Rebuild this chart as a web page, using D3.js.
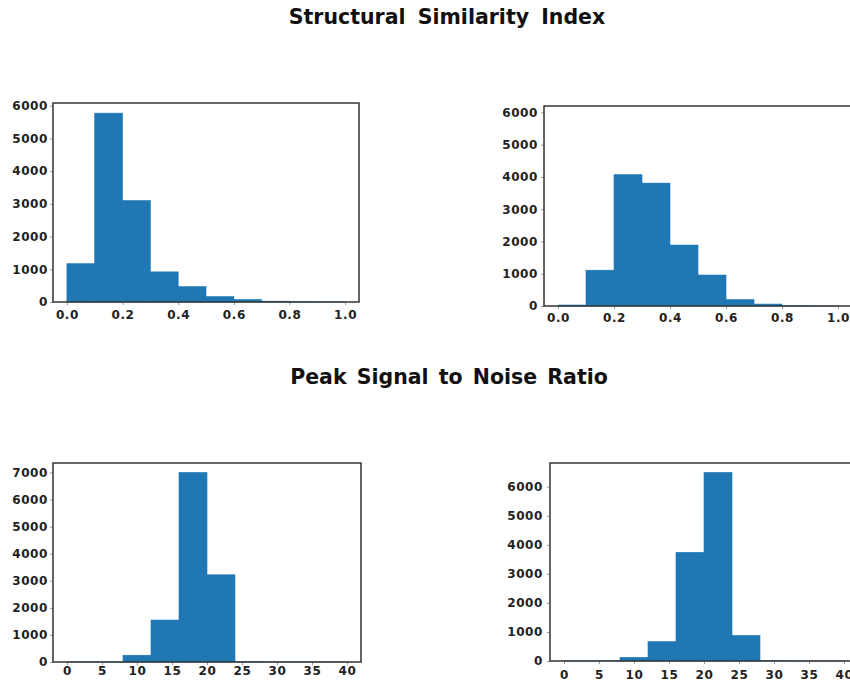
<!DOCTYPE html>
<html>
<head>
<meta charset="utf-8">
<script src="https://cdn.jsdelivr.net/npm/d3@7"></script>
<style>
  body { margin: 0; background: #fff; }
  svg { display: block; }
</style>
</head>
<body>
<svg id="chart" width="850" height="687"></svg>
<script>
// bin edges
const ssimEdges = [0, 0.1, 0.2, 0.3, 0.4, 0.5, 0.6, 0.7, 0.8, 0.9, 1.0]
const psnrEdges = [0, 4, 8, 12, 16, 20, 24, 28, 32, 36, 40]

// counts per bin
const ssimLeft = [1170, 5770, 3100, 920, 470, 165, 75, 25, 8, 3]
const ssimRight = [30, 1110, 4070, 3810, 1890, 960, 200, 60, 8, 2]
const psnrLeft = [3, 8, 250, 1550, 7000, 3220, 10, 5, 3, 2]
const psnrRight = [3, 6, 125, 665, 3740, 6490, 880, 8, 3, 2]

// tick labels
const ssimXTicks = [0, 0.2, 0.4, 0.6, 0.8, 1.0]
const psnrXTicks = [0, 5, 10, 15, 20, 25, 30, 35, 40]
const yTicks6000 = [0, 1000, 2000, 3000, 4000, 5000, 6000]
const yTicks7000 = [0, 1000, 2000, 3000, 4000, 5000, 6000, 7000]

const titles = ["Structural Similarity Index", "Peak Signal to Noise Ratio"]

const svg = d3.select("#chart")
const font = "DejaVu Sans, Verdana, sans-serif"

// Section titles
svg.append("text")
  .attr("x", 447).attr("y", 24)
  .attr("text-anchor", "middle")
  .attr("font-family", font)
  .attr("font-weight", "bold")
  .attr("font-size", 20.5)
  .attr("fill", "#111")
  .attr("word-spacing", 5)
  .text(titles[0])

svg.append("text")
  .attr("x", 449).attr("y", 384)
  .attr("text-anchor", "middle")
  .attr("font-family", font)
  .attr("font-weight", "bold")
  .attr("font-size", 20.5)
  .attr("fill", "#111")
  .attr("word-spacing", 3)
  .text(titles[1])

const panels = [
  { edges: ssimEdges, counts: ssimLeft, xTicks: ssimXTicks, yTicks: yTicks6000,
    xDomain: [-0.05, 1.05], yMax: 6080, x0: 53, x1: 359, yTop: 103, yBot: 302,
    fmt: d3.format(".1f"), xPad: 5, yPad: 2 },
  { edges: ssimEdges, counts: ssimRight, xTicks: ssimXTicks, yTicks: yTicks6000,
    xDomain: [-0.05, 1.05], yMax: 6200, x0: 544, x1: 852, yTop: 106, yBot: 306,
    fmt: d3.format(".1f"), xPad: 4, yPad: 3 },
  { edges: psnrEdges, counts: psnrLeft, xTicks: psnrXTicks, yTicks: yTicks7000,
    xDomain: [-2, 42], yMax: 7350, x0: 53, x1: 361, yTop: 463, yBot: 662,
    fmt: d3.format("d"), xPad: 1, yPad: 2 },
  { edges: psnrEdges, counts: psnrRight, xTicks: psnrXTicks, yTicks: yTicks6000,
    xDomain: [-2, 42], yMax: 6815, x0: 550, x1: 858, yTop: 463, yBot: 661,
    fmt: d3.format("d"), xPad: 6, yPad: 4 },
]

panels.forEach((p) => {
  const x = d3.scaleLinear().domain(p.xDomain).range([p.x0, p.x1])
  const y = d3.scaleLinear().domain([0, p.yMax]).range([p.yBot, p.yTop])
  const g = svg.append("g")

  // bars (stroke in fill colour hides seams between neighbours)
  g.selectAll(".bar")
    .data(p.counts)
    .enter()
    .append("rect")
    .attr("class", "bar")
    .attr("x", (d, i) => x(p.edges[i]))
    .attr("width", (d, i) => x(p.edges[i + 1]) - x(p.edges[i]))
    .attr("y", (d) => y(d))
    .attr("height", (d) => y(0) - y(d))
    .attr("fill", "#1f77b4")
    .attr("stroke", "#1f77b4")
    .attr("stroke-width", 0.6)

  // x axis
  const xa = g.append("g")
    .attr("transform", `translate(0,${p.yBot})`)
    .call(d3.axisBottom(x).tickValues(p.xTicks).tickFormat(p.fmt).tickSize(3).tickPadding(p.xPad))
  xa.select(".domain").remove()

  // y axis
  const ya = g.append("g")
    .attr("transform", `translate(${p.x0},0)`)
    .call(d3.axisLeft(y).tickValues(p.yTicks).tickFormat(d3.format("d")).tickSize(3).tickPadding(p.yPad))
  ya.select(".domain").remove()

  g.selectAll(".tick line").attr("stroke", "#999")
  g.selectAll(".tick text")
    .attr("font-family", font)
    .attr("font-weight", "bold")
    .attr("font-size", 12)
    .attr("letter-spacing", 0.6)
    .attr("fill", "#222")

  // frame
  g.append("rect")
    .attr("x", p.x0).attr("y", p.yTop)
    .attr("width", p.x1 - p.x0).attr("height", p.yBot - p.yTop)
    .attr("fill", "none")
    .attr("stroke", "#333")
    .attr("stroke-width", 1.5)
})
</script>
</body>
</html>
